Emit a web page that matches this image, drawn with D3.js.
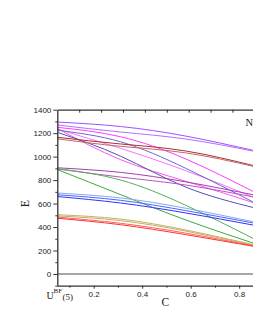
<!DOCTYPE html>
<html>
<head>
<meta charset="utf-8">
<script src="https://cdn.jsdelivr.net/npm/d3@7"></script>
<style>
  html, body { margin: 0; padding: 0; background: #fff; }
  svg { display: block; }
</style>
</head>
<body>
<svg id="chart" width="253" height="327"></svg>
<script>
// ---- data ----
const cGrid = [0.05, 0.31, 0.58, 0.87];

const violetA   = [1295, 1257, 1175, 1048];
const violetB   = [1270, 1210, 1150, 1042];
const magenta   = [1250, 1170,  980,  690];
const pinkA     = [1235, 1071,  880,  645];
const pinkSteep = [1240,  975,  790,  600];
const blueA     = [1225, 1127,  900,  600];
const blueSteep = [1207, 1005,  740,  560];
const darkRedA  = [1165, 1108, 1048,  918];
const darkRedB  = [1152, 1088, 1032,  912];
const purpleA   = [ 905,  866,  785,  670];
const purpleB   = [ 895,  826,  758,  652];
const greenA    = [ 890,  677,  460,  255];
const greenB    = [ 898,  801,  585,  290];
const lightBlue = [ 690,  648,  560,  440];
const blueB     = [ 675,  628,  540,  430];
const blueC     = [ 660,  605,  520,  412];
const olive     = [ 505,  468,  375,  245];
const tan       = [ 495,  455,  365,  240];
const redA      = [ 485,  432,  348,  236];
const redB      = [ 475,  420,  335,  232];

const seriesNames = ["violetA","violetB","magenta","pinkA","pinkSteep","blueA","blueSteep",
  "darkRedA","darkRedB","purpleA","purpleB","greenA","greenB","lightBlue","blueB","blueC",
  "olive","tan","redA","redB"];
const seriesValues = [violetA, violetB, magenta, pinkA, pinkSteep, blueA, blueSteep,
  darkRedA, darkRedB, purpleA, purpleB, greenA, greenB, lightBlue, blueB, blueC,
  olive, tan, redA, redB];

const xTicks = [0.2, 0.4, 0.6, 0.8];
const xMinor = [0.1, 0.3, 0.5, 0.7];
const yTicks = [0, 200, 400, 600, 800, 1000, 1200, 1400];
const yMinor = [-100, 100, 300, 500, 700, 900, 1100, 1300];
const topTicks = [1, 2, 3, 4, 5, 6, 7, 8, 9];

// ---- styles ----
const colors = {
  violetA: "#a050ff", violetB: "#b070ff", magenta: "#ff3cff", pinkA: "#ff70ff",
  pinkSteep: "#ff55ee", blueA: "#6a6ad0", blueSteep: "#5050b8",
  darkRedA: "#a83030", darkRedB: "#c06868", purpleA: "#a040b0", purpleB: "#c050c8",
  greenA: "#40a840", greenB: "#55b055", lightBlue: "#88a8e8", blueB: "#4466ff",
  blueC: "#3030ff", olive: "#b8b860", tan: "#d0a868", redA: "#ff6060", redB: "#ff3030"
};

const svg = d3.select("#chart");
svg.append("rect").attr("width", 253).attr("height", 327).attr("fill", "#fff");

const x = d3.scaleLinear().domain([0.05, 0.857]).range([57.3, 253]);
const y = d3.scaleLinear().domain([-100, 1400]).range([285.7, 109.7]);
const xTop = d3.scaleLinear().domain([0, 9]).range([57.3, 254.4]);

// zero line
svg.append("line")
  .attr("x1", x(0.05)).attr("x2", x(0.9))
  .attr("y1", y(0)).attr("y2", y(0))
  .attr("stroke", "#888").attr("stroke-width", 1.4);

// curves
const line = d3.line()
  .x((d, i) => x(cGrid[i]))
  .y(d => y(d))
  .curve(d3.curveNatural);

svg.append("g").selectAll("path")
  .data(seriesValues)
  .join("path")
  .attr("d", d => line(d))
  .attr("fill", "none")
  .attr("stroke", (d, i) => colors[seriesNames[i]])
  .attr("stroke-width", 1);

// axes
const axisColor = "#333";
function styleAxis(g) {
  g.selectAll("path.domain").attr("stroke", axisColor).attr("stroke-width", 1.3);
  g.selectAll(".tick line").attr("stroke", axisColor).attr("stroke-width", 1);
  g.selectAll("text").attr("font-family", "Liberation Sans, Arial, sans-serif")
    .attr("font-size", 8).attr("fill", "#222");
}

// left axis
const gy = svg.append("g").attr("transform", `translate(${x(0.05)},0)`)
  .call(d3.axisLeft(y).tickValues(yTicks).tickSize(4).tickSizeOuter(0).tickPadding(2)
    .tickFormat(d3.format("d")));
styleAxis(gy);
const gyMinor = svg.append("g").attr("transform", `translate(${x(0.05)},0)`)
  .call(d3.axisLeft(y).tickValues(yMinor).tickSize(2).tickSizeOuter(0).tickFormat(""));
styleAxis(gyMinor);
gyMinor.select("path.domain").remove();

// bottom axis
const gx = svg.append("g").attr("transform", `translate(0,${y(-100)})`)
  .call(d3.axisBottom(x).tickValues(xTicks).tickSize(3).tickSizeOuter(0).tickPadding(3)
    .tickFormat(d3.format(".1f")));
styleAxis(gx);
const gxMinor = svg.append("g").attr("transform", `translate(0,${y(-100)})`)
  .call(d3.axisBottom(x).tickValues(xMinor).tickSize(2).tickSizeOuter(0).tickFormat(""));
styleAxis(gxMinor);
gxMinor.select("path.domain").remove();

// top axis (ticks inward, no labels)
const gTop = svg.append("g").attr("transform", `translate(0,${y(1400)})`)
  .call(d3.axisBottom(xTop).tickValues(topTicks).tickSize(3).tickSizeOuter(0).tickFormat(""));
styleAxis(gTop);

// labels
svg.append("text")
  .attr("transform", "translate(28.8,203.5) rotate(-90)")
  .attr("text-anchor", "middle")
  .attr("font-family", "Liberation Serif, Times New Roman, serif")
  .attr("font-size", 12).attr("fill", "#222")
  .text("E");

svg.append("text")
  .attr("x", 165.3).attr("y", 306)
  .attr("text-anchor", "middle")
  .attr("font-family", "Liberation Serif, Times New Roman, serif")
  .attr("font-size", 11.5).attr("fill", "#222")
  .text("C");

svg.append("text")
  .attr("x", 245.5).attr("y", 126)
  .attr("font-family", "Liberation Serif, Times New Roman, serif")
  .attr("font-size", 10.5).attr("fill", "#222")
  .text("N");

const u = svg.append("text")
  .attr("font-family", "Liberation Serif, Times New Roman, serif")
  .attr("fill", "#222");
u.append("tspan").attr("x", 46.5).attr("y", 298.5).attr("font-size", 10).text("U");
u.append("tspan").attr("x", 53.5).attr("y", 292.5).attr("font-size", 7).text("BF");
u.append("tspan").attr("x", 62.5).attr("y", 299.5).attr("font-size", 9).text("(5)");
</script>
</body>
</html>
